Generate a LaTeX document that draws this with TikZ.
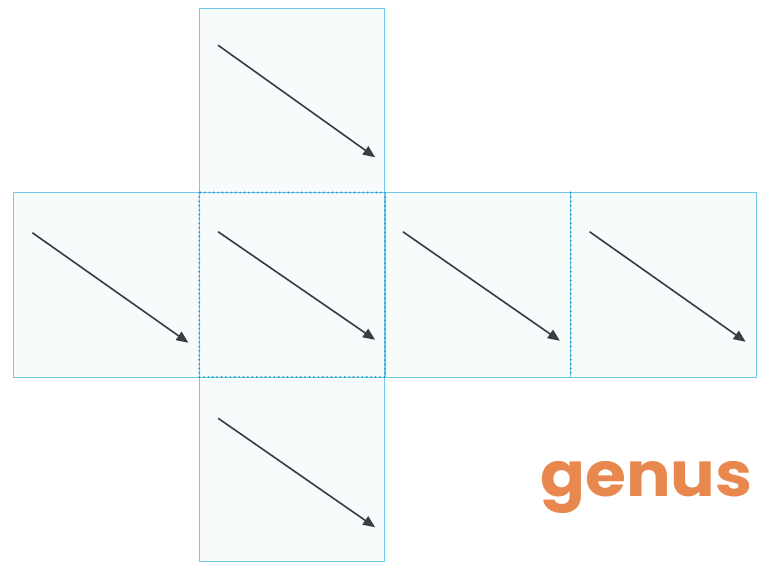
\documentclass[tikz,border=0pt]{standalone}
\usepackage{fontspec}
\newfontfamily\handfont{Poppins}
\usetikzlibrary{arrows.meta}
\definecolor{edgecyan}{HTML}{6FCBEA}
\definecolor{dotblue}{HTML}{2E9AD2}
\definecolor{sqfill}{HTML}{F7FBFC}
\definecolor{arrowline}{HTML}{3B3848}
\definecolor{arrowtip}{HTML}{2E4A36}
\definecolor{orangeword}{HTML}{E8874E}
\tikzset{
  sq/.style={draw=edgecyan, fill=sqfill, line width=1pt, minimum width=185.75pt, minimum height=184.5pt, inner sep=0pt, outer sep=0pt},
  dotline/.style={draw=dotblue, line width=2.1pt, line cap=round, dash pattern=on 0pt off 4.4pt},
  vec/.style={draw=arrowline, line width=1.6pt, -{Triangle[length=12pt,width=10pt,fill=arrowtip]}},
}
\begin{document}
\begin{tikzpicture}[x=1pt,y=-1pt]
\useasboundingbox (0,0) rectangle (758,563);
% squares
\node[sq] (top) at (292.1,100.25) {};
\node[sq] (left) at (106.4,284.75) {};
\node[sq] (mid) at (292.1,284.75) {};
\node[sq] (right) at (477.9,284.75) {};
\node[sq] (far) at (663.6,284.75) {};
\node[sq] (bot) at (292.1,469.25) {};
% dotted borders around middle square and between right squares
\draw[dotline] (mid.north west) rectangle (mid.south east);
\draw[dotline] (right.north east) -- (right.south east);
% arrows
\path (top.center) ++(-74,-55) coordinate (ta) (top.center) ++(83,57) coordinate (tb);
\path (left.center) ++(-74,-52) coordinate (la) (left.center) ++(82,58) coordinate (lb);
\path (mid.center) ++(-74,-53) coordinate (ma) (mid.center) ++(83,55) coordinate (mb);
\path (right.center) ++(-75,-53) coordinate (ra) (right.center) ++(82,56) coordinate (rb);
\path (far.center) ++(-74,-53) coordinate (fa) (far.center) ++(82,57) coordinate (fb);
\path (bot.center) ++(-74,-51) coordinate (ba) (bot.center) ++(83,58) coordinate (bb);
\draw[vec] (ta) -- (tb);
\draw[vec] (la) -- (lb);
\draw[vec] (ma) -- (mb);
\draw[vec] (ra) -- (rb);
\draw[vec] (fa) -- (fb);
\draw[vec] (ba) -- (bb);
% word
\node[text=orangeword, font=\handfont\bfseries\fontsize{62}{62}\selectfont, anchor=base west, inner sep=0pt, xscale=1.07] (word) at (540,496) {genus};
\end{tikzpicture}
\end{document}
